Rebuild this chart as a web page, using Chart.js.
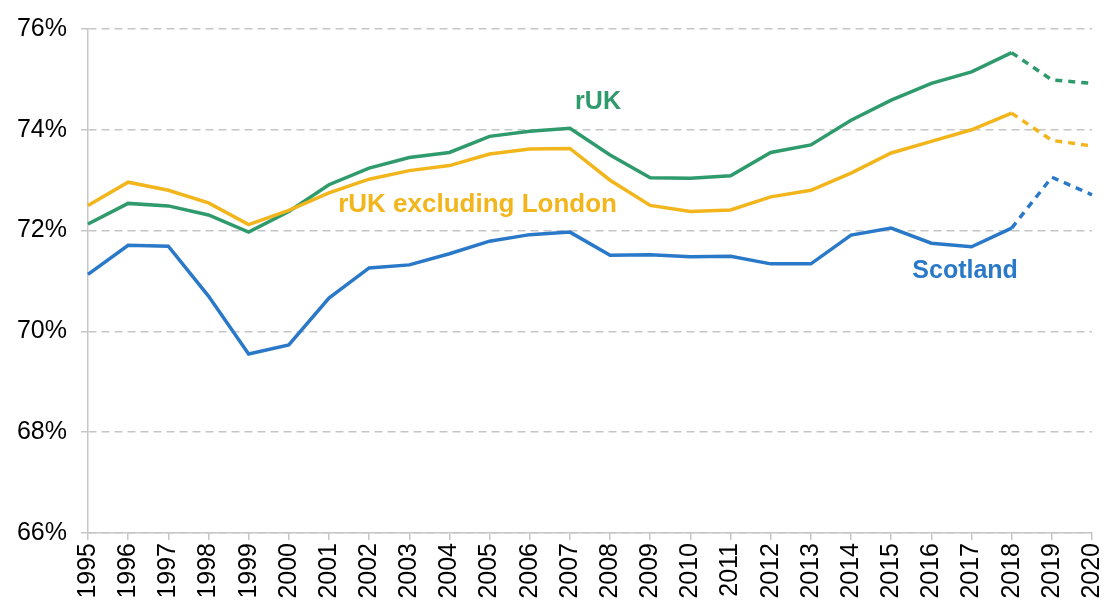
<!DOCTYPE html>
<html>
<head>
<meta charset="utf-8">
<script src="https://cdn.jsdelivr.net/npm/chart.js@4/dist/chart.umd.min.js"></script>
<style>
  html, body { margin: 0; padding: 0; background: #fff; }
  #wrap { width: 1104px; height: 608px; }
</style>
</head>
<body>
<div id="wrap"><canvas id="c" width="1104" height="608"></canvas></div>
<script>
const years = ['1995','1996','1997','1998','1999','2000','2001','2002','2003','2004','2005','2006','2007','2008','2009','2010','2011','2012','2013','2014','2015','2016','2017','2018','2019','2020'];
const rUK = [72.13,72.54,72.49,72.31,71.97,72.38,72.91,73.24,73.45,73.55,73.87,73.97,74.03,73.50,73.05,73.04,73.09,73.55,73.70,74.19,74.59,74.92,75.15,75.53,74.99,74.92];
const rUKexLondon = [72.50,72.96,72.80,72.55,72.12,72.40,72.75,73.02,73.19,73.29,73.52,73.62,73.63,73.00,72.50,72.38,72.41,72.67,72.80,73.14,73.54,73.77,74.00,74.33,73.79,73.68];
const scotland = [71.13,71.71,71.69,70.70,69.55,69.73,70.66,71.26,71.32,71.54,71.79,71.92,71.97,71.51,71.52,71.48,71.49,71.34,71.34,71.91,72.05,71.75,71.68,72.05,73.06,72.71];
const yTicks = [66,68,70,72,74,76];
const forecastStart = 23; // index of 2018: segments after this are projections

const seriesLabels = [
  { text: 'rUK', x: 12.7, y: 74.55, color: '#2f9a6c', size: 25 },
  { text: 'rUK excluding London', x: 9.7, y: 72.52, color: '#f2b51c', size: 26 },
  { text: 'Scotland', x: 21.84, y: 71.20, color: '#2a79c9', size: 25 }
];

const dashSeg = { borderDash: ctx => ctx.p0DataIndex >= forecastStart ? [7, 6] : undefined };

const labelPlugin = {
  id: 'seriesLabels',
  afterDatasetsDraw(chart) {
    const { ctx, scales } = chart;
    ctx.save();
    ctx.textAlign = 'center';
    ctx.textBaseline = 'middle';
    seriesLabels.forEach(l => {
      ctx.font = 'bold ' + l.size + 'px "Liberation Sans", Arial, sans-serif';
      ctx.fillStyle = l.color;
      ctx.fillText(l.text, scales.x.getPixelForValue(l.x), scales.y.getPixelForValue(l.y));
    });
    ctx.restore();
  }
};

const tickFont = { family: '"Liberation Sans", Arial, sans-serif', size: 25 };

new Chart(document.getElementById('c'), {
  type: 'line',
  data: {
    labels: years,
    datasets: [
      { label: 'rUK excluding London', data: rUKexLondon, borderColor: '#f2b51c', segment: dashSeg },
      { label: 'rUK', data: rUK, borderColor: '#2f9a6c', segment: dashSeg },
      { label: 'Scotland', data: scotland, borderColor: '#2a79c9', segment: dashSeg }
    ]
  },
  options: {
    responsive: false,
    devicePixelRatio: 1,
    animation: false,
    layout: { padding: { top: 27, right: 12, left: 0, bottom: 0 } },
    elements: {
      line: { borderWidth: 3.5, tension: 0, fill: false, borderCapStyle: 'butt', borderJoinStyle: 'miter' },
      point: { radius: 0, hoverRadius: 0 }
    },
    plugins: { legend: { display: false }, tooltip: { enabled: false } },
    scales: {
      x: {
        type: 'category',
        offset: false,
        grid: { drawOnChartArea: false, drawTicks: true, tickLength: 7, color: '#c6c6c6', lineWidth: 1.5 },
        border: { display: true, color: '#c6c6c6', width: 1.5 },
        ticks: { color: '#000', font: tickFont, minRotation: 90, maxRotation: 90, autoSkip: false, padding: 3 },
        afterFit: s => { s.height = 75; s.paddingLeft = 0; s.paddingRight = 0; }
      },
      y: {
        min: 66, max: 76,
        afterBuildTicks: s => { s.ticks = yTicks.map(v => ({ value: v })); },
        grid: { color: '#c6c6c6', lineWidth: 1.5, tickLength: 7, tickBorderDash: [], drawTicks: true },
        border: { display: true, color: '#c6c6c6', width: 1.5, dash: [8, 5] },
        ticks: { color: '#000', font: tickFont, padding: 14, callback: v => v + '%' },
        afterFit: s => { s.width = 88; }
      }
    }
  },
  plugins: [labelPlugin]
});
</script>
</body>
</html>
